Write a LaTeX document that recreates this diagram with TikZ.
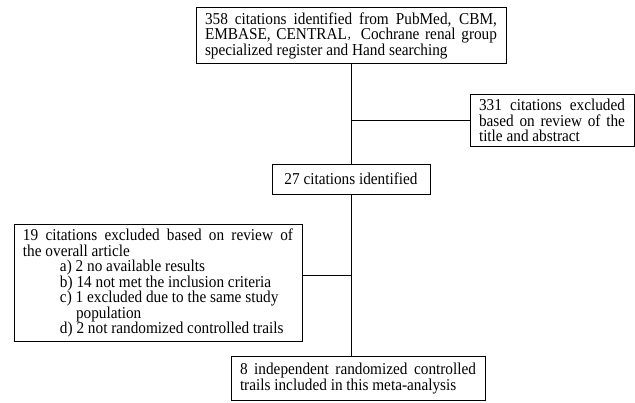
\documentclass[tikz,border=0pt]{standalone}
\usepackage{fontspec}
\setmainfont[FakeStretch=0.92]{Liberation Serif}
\newfontfamily\cjk{Noto Sans CJK SC}
\usetikzlibrary{calc}

\begin{document}
\begin{tikzpicture}[x=1pt, y=1pt]
    \tikzstyle{every node} = [font=\fontsize{16.6}{15.5}\selectfont]
    \tikzstyle{textbox} = [align=justify, draw, line width=1pt, inner xsep=9pt, inner ysep=5pt]
    \tikzstyle{connector} = [line width=1pt]

    \useasboundingbox (0,0) rectangle (635,-402);

    \node (search) [textbox, text width=292pt] at (351,-35.5) {358 citations identified from PubMed, CBM, EMBASE, CENTRAL{\cjk\fontsize{10}{10}\selectfont ，}\hspace{4pt}Cochrane renal group specialized register and Hand searching};
    \node (excluded1) [textbox, text width=146pt, inner ysep=4.5pt] at (552,-120.5) {331 citations excluded based on review of the title and abstract};
    \node (identified) [textbox, align=center, below of=search, node distance=143.5pt, minimum width=158pt, minimum height=30pt] {27 citations identified};
    \node (excluded2) [textbox, text width=270pt, inner ysep=4.8pt] at (158,-283) {19 citations excluded based on review of\linebreak the overall article\par
      {\leftskip=37pt a) 2 no available results\par
      b) 14 not met the inclusion criteria\par
      c) 1 excluded due to the same study\par
      \hspace*{16pt}population\par
      d) 2 not randomized controlled trails\par}};
    \node (included) [textbox, text width=236pt, inner ysep=7pt] at (358,-378.6) {8 independent randomized controlled trails included in this meta-analysis};

    \coordinate (branch) at ($(identified.south)!0.5!(identified.south |- included.north)$);
    \draw [connector] (search) -- (identified);
    \draw [connector] (excluded1.west) -- (excluded1.west -| search.south);
    \draw [connector] (identified) -- (identified |- included.north);
    \draw [connector] (branch) -- (branch -| excluded2.east);
\end{tikzpicture}
\end{document}
